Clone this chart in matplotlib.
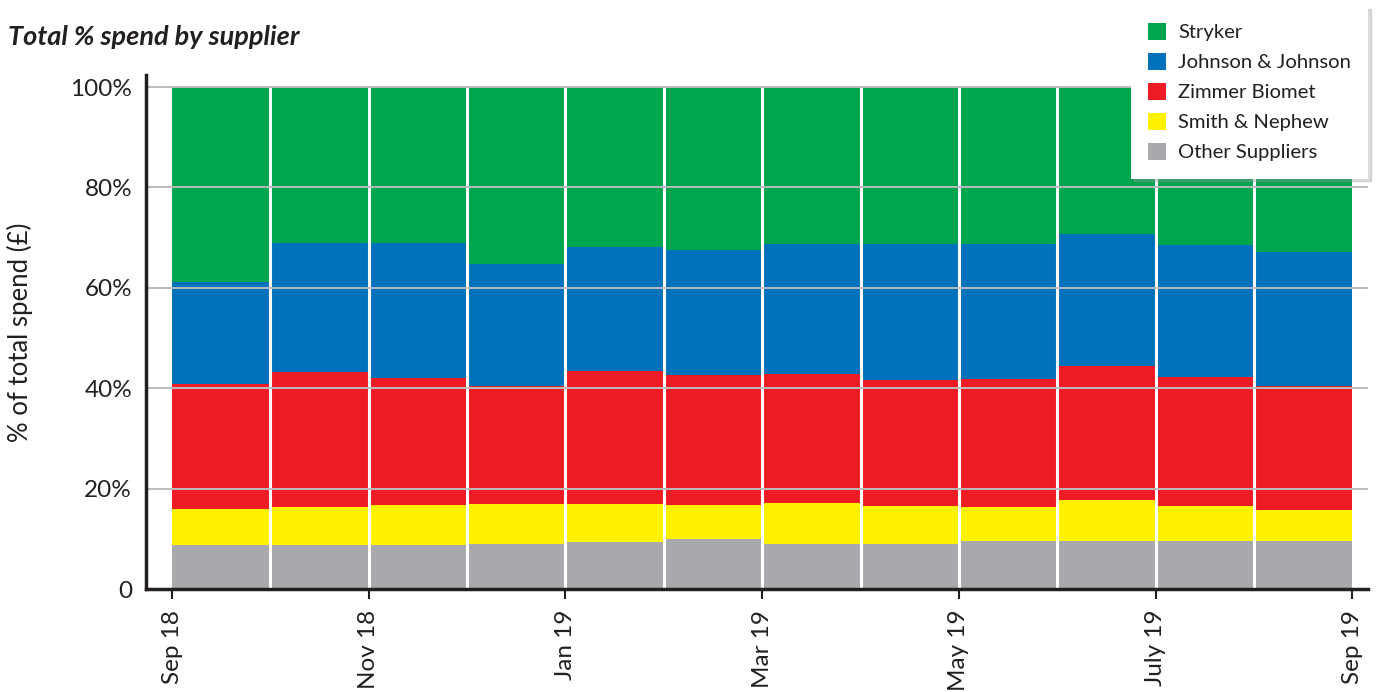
import matplotlib
matplotlib.use("Agg")
import matplotlib.pyplot as plt
import numpy as np

plt.rcParams['font.family'] = ['Lato', 'DejaVu Sans']

months = ['Sep 18', 'Oct 18', 'Nov 18', 'Dec 18', 'Jan 19', 'Feb 19',
          'Mar 19', 'Apr 19', 'May 19', 'Jun 19', 'July 19', 'Aug 19']
tick_labels = ['Sep 18', 'Nov 18', 'Jan 19', 'Mar 19', 'May 19', 'July 19', 'Sep 19']

other = [8.8, 8.8, 8.8, 9.0, 9.4, 10.0, 9.0, 9.0, 9.6, 9.6, 9.6, 9.6]
smith = [7.1, 7.5, 7.9, 7.9, 7.5, 6.7, 8.1, 7.5, 6.7, 8.1, 6.9, 6.1]
zimmer = [25.0, 27.0, 25.4, 23.6, 26.5, 25.9, 25.8, 25.2, 25.5, 26.8, 25.7, 24.8]
jj = [20.3, 25.6, 26.8, 24.3, 24.7, 24.9, 25.8, 27.0, 26.9, 26.3, 26.3, 26.6]
stryker = [38.8, 31.1, 31.1, 35.2, 31.9, 32.5, 31.3, 31.3, 31.3, 29.2, 31.5, 32.9]

series = [
    ('Other Suppliers', other, '#A7A9AC'),
    ('Smith & Nephew', smith, '#FFF200'),
    ('Zimmer Biomet', zimmer, '#ED1C24'),
    ('Johnson & Johnson', jj, '#0072BC'),
    ('Stryker', stryker, '#00A550'),
]

text_color = '#231F20'
fig = plt.figure(figsize=(13.81, 6.92), dpi=100)
ax = fig.add_axes([146/1381, 1 - 589/692, (1368 - 146)/1381, (589 - 75)/692])

x = np.arange(len(months))
bottom = np.zeros(len(months))
handles = {}
for name, vals, col in series:
    v = np.array(vals)
    h = ax.bar(x, v, width=1.0, bottom=bottom, align='edge', color=col,
               edgecolor='none', label=name, zorder=1)
    handles[name] = h
    bottom += v

# white separators between months
ax.vlines(np.arange(1, len(months)), 0, 100, colors='white', lw=2.2, zorder=2)

# gridlines
for yv in [20, 40, 60, 80, 100]:
    ax.axhline(yv, color='#BBBBBB', lw=1.4, zorder=3)

ax.set_xlim(-0.265, 12.16)
ax.set_ylim(0, 102.4)

ax.set_yticks([0, 20, 40, 60, 80, 100])
ax.set_yticklabels(['0', '20%', '40%', '60%', '80%', '100%'])
ax.set_xticks(np.arange(0, 13, 2))
ax.set_xticklabels(tick_labels, rotation=90, va='top', ha='center')

ax.tick_params(axis='y', length=0, pad=10, labelsize=17.5, labelcolor=text_color)
ax.tick_params(axis='x', length=7, width=1.5, direction='out', pad=8,
               labelsize=17.5, labelcolor=text_color, color=text_color)

for s in ['top', 'right']:
    ax.spines[s].set_visible(False)
for s in ['left', 'bottom']:
    ax.spines[s].set_color(text_color)
    ax.spines[s].set_linewidth(2.5)
    ax.spines[s].set_zorder(4)

ax.set_ylabel('% of total spend (£)', fontsize=18.5, color=text_color)
ax.yaxis.set_label_coords(-(146 - 33) / 1222, 0.5)

fig.text(8/1381, 1 - 37/692, 'Total % spend by supplier', fontsize=19.5,
         fontweight='bold', fontstyle='italic', color=text_color,
         va='center', ha='left')

order = ['Stryker', 'Johnson & Johnson', 'Zimmer Biomet', 'Smith & Nephew', 'Other Suppliers']
leg = fig.legend([handles[n] for n in order], order,
                 loc='upper right', bbox_to_anchor=(1368/1381, 1 - 6/692),
                 frameon=True, fancybox=False, fontsize=14.6,
                 handlelength=0.87, handleheight=0.87, handletextpad=0.6,
                 labelspacing=0.58, borderpad=0.85, borderaxespad=0,
                 shadow={'color': '#999999', 'alpha': 0.35})
leg.get_frame().set_edgecolor('none')
leg.get_frame().set_facecolor('white')
for t in leg.get_texts():
    t.set_color(text_color)
leg.set_zorder(10)

fig.savefig('out.png', dpi=100)
